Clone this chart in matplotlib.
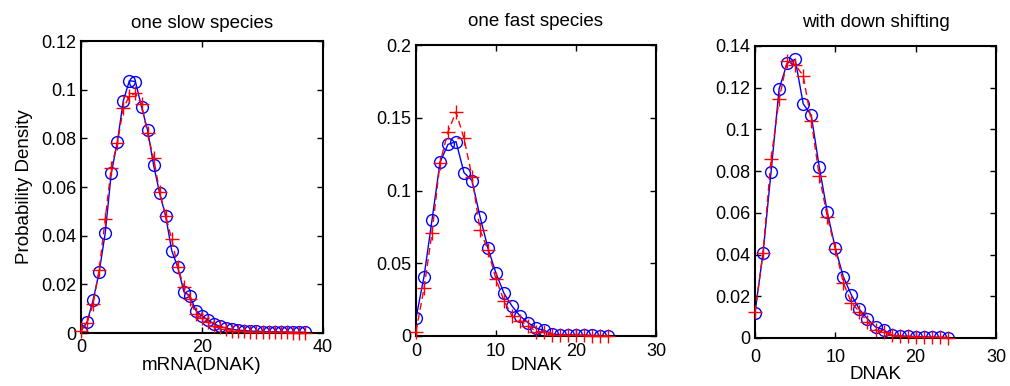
import matplotlib
matplotlib.use("Agg")
import matplotlib.pyplot as plt
import numpy as np

plt.rcParams['font.family'] = ['Liberation Sans', 'DejaVu Sans']

# ---- data ----
x1 = list(range(38))
blue1 = [0.001, 0.0045, 0.0135, 0.025, 0.041, 0.0656, 0.0784, 0.0955, 0.1037, 0.1033,
         0.093, 0.0834, 0.069, 0.0574, 0.048, 0.0338, 0.027, 0.017, 0.0152, 0.0092,
         0.007, 0.0053, 0.0037, 0.0027, 0.002, 0.0015, 0.0012, 0.001, 0.0008, 0.0007,
         0.0006, 0.0005, 0.0005, 0.0004, 0.0004, 0.0003, 0.0003, 0.0003]
red1 = [0.001, 0.0042, 0.0119, 0.026, 0.0467, 0.068, 0.078, 0.0923, 0.0975, 0.0985,
        0.094, 0.082, 0.0718, 0.058, 0.048, 0.0385, 0.027, 0.019, 0.014, 0.0077,
        0.006, 0.0045, 0.003, 0.0025, 0.0015, 0.001, 0.0008, 0.0007, 0.0006, 0.0005,
        0.0004, 0.0004, 0.0003, 0.0003, 0.0003, 0.0002, 0.0002, 0.0002]

x2 = list(range(25))
blue2 = [0.0122, 0.0408, 0.0797, 0.1194, 0.1317, 0.1336, 0.1123, 0.1068, 0.082, 0.0603,
         0.0431, 0.0293, 0.0206, 0.0137, 0.0092, 0.0053, 0.004, 0.0012, 0.001, 0.0008,
         0.0006, 0.0005, 0.0004, 0.0003, 0.0002]
red2 = [0.003, 0.0328, 0.071, 0.119, 0.1404, 0.154, 0.1358, 0.1095, 0.0729, 0.059,
        0.039, 0.0243, 0.0137, 0.0105, 0.0071, 0.003, 0.003, 0.001, 0.0008, 0.0006,
        0.0005, 0.0004, 0.0003, 0.0002, 0.0002]

x3 = list(range(25))
blue3 = [0.0122, 0.0408, 0.0797, 0.1194, 0.1317, 0.1336, 0.1123, 0.1068, 0.082, 0.0603,
         0.0431, 0.0293, 0.0206, 0.0137, 0.0092, 0.0053, 0.004, 0.0012, 0.001, 0.0008,
         0.0006, 0.0005, 0.0004, 0.0003, 0.0002]
red3 = [0.0123, 0.0409, 0.0857, 0.1144, 0.1329, 0.1311, 0.1257, 0.1042, 0.0777, 0.0582,
        0.0427, 0.0265, 0.0169, 0.0126, 0.0078, 0.0038, 0.003, 0.0016, 0.001, 0.0008,
        0.0006, 0.0005, 0.0004, 0.0003, 0.0002]

titles = ["one slow species", "one fast species", "with down shifting"]
xlabels = ["mRNA(DNAK)", "DNAK", "DNAK"]
xticks = [[0, 20, 40], [0, 10, 20, 30], [0, 10, 20, 30]]
yticks = [[0, 0.02, 0.04, 0.06, 0.08, 0.1, 0.12],
          [0, 0.05, 0.1, 0.15, 0.2],
          [0, 0.02, 0.04, 0.06, 0.08, 0.1, 0.12, 0.14]]
ylims = [0.12, 0.2, 0.14]
xlims = [40, 30, 30]

W, H = 1010, 386
fig = plt.figure(figsize=(W / 100, H / 100), dpi=100)

# axes boxes in pixels: left, right, top, bottom
boxes = [(81, 323, 41, 333), (416, 656, 45, 336), (755, 996, 46, 338)]
label_pads = [1, -2, 0]
tick_pads = [4, 5, 8]
title_pads = [9, 14, 14]

data = [(x1, blue1, red1), (x2, blue2, red2), (x3, blue3, red3)]

def fmt(v):
    if v == 0:
        return "0"
    s = f"{v:.2f}".rstrip("0").rstrip(".")
    return s

for i, (l, r, t, b) in enumerate(boxes):
    ax = fig.add_axes([l / W, (H - b) / H, (r - l) / W, (b - t) / H])
    xs, bl, rd = data[i]
    ax.plot(xs, bl, '-', color='#0000ff', lw=1.0, marker='o', ms=8.5,
            mfc='none', mec='#0000ff', mew=1.0, zorder=2)
    ax.plot(xs, rd, '--', color='#ff0000', lw=1.0, marker='+', ms=10,
            mec='#ff0000', mew=1.0, dashes=(5, 3), zorder=3, clip_on=False)
    ax.set_xlim(0, xlims[i])
    ax.set_ylim(0, ylims[i])
    ax.set_xticks(xticks[i])
    ax.set_xticklabels([fmt(v) for v in xticks[i]])
    ax.set_yticks(yticks[i])
    ax.set_yticklabels([fmt(v) for v in yticks[i]])
    ax.tick_params(direction='in', top=True, right=True, length=4, width=1,
                   labelsize=13, colors='black')
    ax.tick_params(axis='x', pad=tick_pads[i])
    for sp in ax.spines.values():
        sp.set_linewidth(1.5)
    ax.set_title(titles[i], fontsize=13.5, pad=title_pads[i])
    ax.set_xlabel(xlabels[i], fontsize=13.5, labelpad=label_pads[i])
    if i == 0:
        ax.set_ylabel("Probability Density", fontsize=13.5, labelpad=6)

fig.savefig("out.png", dpi=100)
